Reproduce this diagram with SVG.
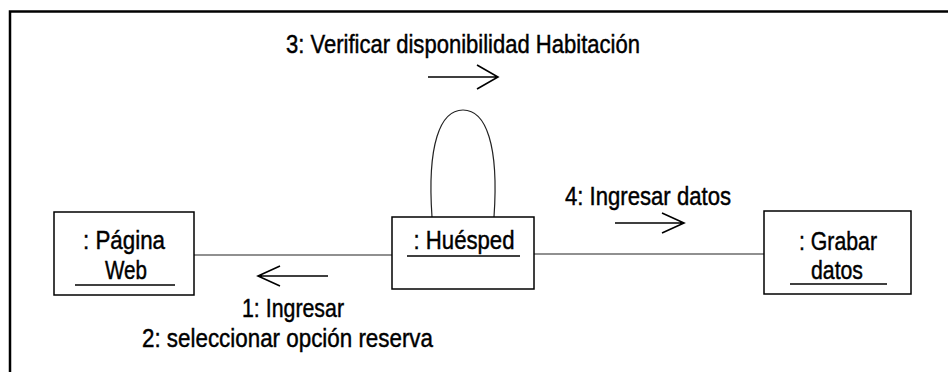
<svg xmlns="http://www.w3.org/2000/svg" width="948" height="372" viewBox="0 0 948 372">
<style>
  text { font-family: "Liberation Sans", Arial, sans-serif; font-size: 26px; fill: #000; stroke: #000; stroke-width: 0.45; text-anchor: middle; }
  .box { fill: #fff; stroke: #000; stroke-width: 1.5; }
  .ul { stroke: #000; stroke-width: 1.3; }
  .link { fill: none; stroke: #222; stroke-width: 1.2; }
  .arr { fill: none; stroke: #000; stroke-width: 1.6; }
  .frame { stroke: #000; stroke-width: 2.5; fill: none; }
</style>
<rect width="948" height="372" fill="#fff"/>
<path class="frame" d="M10,372 V11.5 H948"/>

<g id="connectors">
  <line class="link" x1="194" y1="255" x2="392" y2="255"/>
  <line class="link" x1="534" y1="254" x2="764" y2="254"/>
  <path class="link" d="M432,217 C427,145 440,110 463,110 C486,110 499,145 494,217"/>
  <g id="msg1">
    <path class="arr" d="M328,276 H258 M280,266 L258,276 L280,286"/>
    <text x="293" y="317" textLength="102" lengthAdjust="spacingAndGlyphs">1: Ingresar</text>
    <text x="287.5" y="347" textLength="291" lengthAdjust="spacingAndGlyphs">2: seleccionar opción reserva</text>
  </g>
  <g id="msg3">
    <path class="arr" d="M428,77 H498 M477,65 L498,77 L477,89"/>
    <text x="463" y="53" textLength="354" lengthAdjust="spacingAndGlyphs">3: Verificar disponibilidad Habitación</text>
  </g>
  <g id="msg4">
    <path class="arr" d="M615,223 H684 M662,213 L684,223 L662,233"/>
    <text x="648" y="205" textLength="166" lengthAdjust="spacingAndGlyphs">4: Ingresar datos</text>
  </g>
</g>

<g id="pagina-web">
  <rect class="box" x="54" y="212" width="140" height="83"/>
  <text x="124" y="249" textLength="82" lengthAdjust="spacingAndGlyphs">: Página</text>
  <text x="126" y="279" textLength="42" lengthAdjust="spacingAndGlyphs">Web</text>
  <line class="ul" x1="75" y1="285" x2="175" y2="285"/>
</g>

<g id="huesped">
  <rect class="box" x="392" y="217" width="142" height="72"/>
  <text x="464" y="249" textLength="101" lengthAdjust="spacingAndGlyphs">: Huésped</text>
  <line class="ul" x1="407" y1="256" x2="520" y2="256"/>
</g>

<g id="grabar-datos">
  <rect class="box" x="764" y="211" width="147" height="83"/>
  <text x="838" y="250" textLength="78" lengthAdjust="spacingAndGlyphs">: Grabar</text>
  <text x="837" y="279" textLength="52" lengthAdjust="spacingAndGlyphs">datos</text>
  <line class="ul" x1="790" y1="284" x2="887" y2="284"/>
</g>
</svg>
